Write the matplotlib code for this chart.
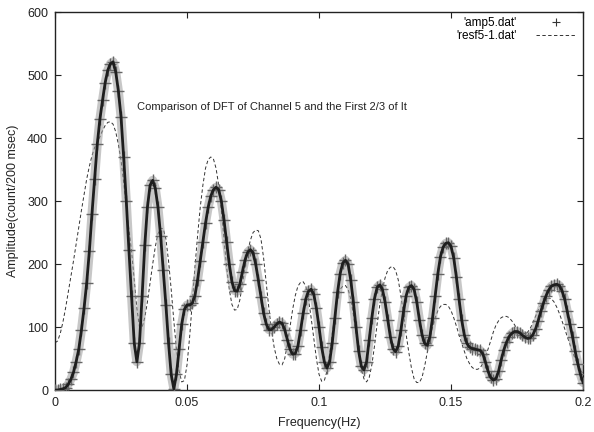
import numpy as np
import matplotlib
matplotlib.use("Agg")
import matplotlib.pyplot as plt
from matplotlib.lines import Line2D

plt.rcParams['font.family'] = ['Liberation Sans', 'DejaVu Sans']

# frequency grid (Hz), step 0.001
freq_start, freq_step, n_pts = 0.0, 0.001, 201

amp5 = [
    0, 0, 1, 2, 4, 9, 17, 28, 45, 65,
    95, 130, 170, 220, 280, 335, 390, 430, 460, 488,
    508, 518, 521, 505, 475, 434, 370, 300, 222, 150,
    75, 45, 75, 150, 230, 290, 325, 333, 320, 290,
    245, 190, 135, 75, 25, 2, 25, 65, 105, 128,
    135, 135, 138, 150, 175, 205, 235, 265, 290, 308,
    318, 322, 318, 300, 270, 235, 200, 172, 158, 157,
    168, 188, 207, 219, 223, 218, 200, 175, 148, 122,
    105, 96, 96, 100, 105, 108, 106, 96, 80, 65,
    57, 58, 70, 95, 122, 145, 157, 160, 152, 130,
    100, 68, 45, 35, 45, 75, 115, 155, 185, 202,
    206, 200, 175, 140, 100, 62, 38, 32, 45, 80,
    115, 145, 163, 167, 160, 140, 112, 85, 66, 61,
    70, 95, 125, 150, 163, 166, 160, 140, 112, 88,
    74, 71, 85, 115, 150, 185, 212, 227, 233, 234,
    228, 210, 180, 145, 112, 88, 74, 68, 66, 65,
    64, 63, 58, 45, 30, 20, 16, 18, 30, 48,
    64, 76, 85, 90, 93, 93, 91, 87, 84, 82,
    83, 88, 97, 110, 125, 138, 150, 159, 165, 167,
    168, 166, 158, 145, 125, 105, 85, 62, 42, 25,
    12,
]

resf5_1 = [
    75, 78, 90, 108, 130, 155, 180, 205, 232, 258,
    285, 310, 335, 355, 372, 385, 393, 402, 412, 420,
    425, 426, 422, 410, 390, 365, 330, 290, 255, 220,
    175, 130, 100, 100, 115, 140, 170, 200, 228, 248,
    257, 256, 240, 205, 160, 110, 65, 30, 13, 15,
    40, 85, 140, 195, 245, 290, 325, 352, 366, 370,
    367, 352, 325, 285, 240, 195, 160, 136, 127, 128,
    143, 168, 195, 220, 238, 250, 254, 253, 240, 210,
    170, 130, 95, 68, 50, 41, 40, 50, 72, 100,
    128, 150, 165, 171, 172, 165, 145, 115, 82, 50,
    25, 14, 15, 30, 58, 90, 120, 145, 160, 165,
    166, 160, 145, 120, 90, 60, 35, 18, 13, 20,
    40, 70, 105, 135, 160, 178, 190, 195, 196, 190,
    175, 150, 120, 88, 60, 35, 18, 12, 12, 20,
    38, 60, 82, 100, 115, 126, 133, 136, 136, 133,
    126, 115, 102, 88, 75, 62, 50, 42, 36, 33,
    33, 35, 42, 52, 65, 78, 92, 103, 110, 115,
    117, 117, 115, 110, 104, 97, 92, 90, 90, 92,
    98, 107, 117, 127, 135, 141, 145, 146, 145, 140,
    132, 122, 110, 98, 85, 73, 60, 50, 40, 32,
    26,
]

xticks = [0, 0.05, 0.1, 0.15, 0.2]
xtick_labels = ['0', '0.05', '0.1', '0.15', '0.2']
yticks = [0, 100, 200, 300, 400, 500, 600]

freq = freq_start + freq_step * np.arange(n_pts)

fig = plt.figure(figsize=(5.94, 4.32), dpi=100)
ax = fig.add_axes([0.0926, 0.097, 0.889, 0.875])

# grey halo of the dense '+' band
ax.plot(freq, amp5, color='#9a9a9a', lw=6.5, solid_capstyle='round',
        alpha=0.55, zorder=2)
ax.plot(freq, amp5, linestyle='none', marker='+', markersize=8,
        markeredgewidth=1.0, color='#666666', zorder=3)
ax.plot(freq, amp5, color='#1e1e1e', lw=2.0, zorder=4)
ax.plot(freq, resf5_1, linestyle=(0, (3.5, 2.5)), lw=0.7, color='#333333',
        zorder=1)

handles = [Line2D([], [], linestyle='none', marker='+', markersize=6,
                  markeredgewidth=0.8, color='#333333'),
           Line2D([], [], linestyle=(0, (3.5, 2.5)), lw=0.7, color='#333333')]
labels = ["'amp5.dat'", "'resf5-1.dat'"]

ax.set_xlim(0, 0.2)
ax.set_ylim(0, 600)
ax.set_xticks(xticks)
ax.set_xticklabels(xtick_labels)
ax.set_yticks(yticks)
ax.tick_params(direction='in', top=True, right=True, length=4, width=0.8,
               labelsize=9, colors='#222222', pad=5)
for s in ax.spines.values():
    s.set_linewidth(1.0)
    s.set_color('#222222')

ax.set_xlabel('Frequency(Hz)', fontsize=9, color='#222222', labelpad=6)
ax.set_ylabel('Amplitude(count/200 msec)', fontsize=9, color='#222222', labelpad=6)

ax.text(0.031, 449, 'Comparison of DFT of Channel 5 and the First 2/3 of It',
        fontsize=8, color='#222222', va='center', ha='left', zorder=6)

leg = ax.legend(handles, labels, loc='upper right', frameon=False,
                markerfirst=False, fontsize=8.5, handlelength=3.4,
                handletextpad=1.6, labelspacing=0.1, borderaxespad=0.2,
                alignment='right', bbox_to_anchor=(1.0, 1.005))

fig.savefig('out.png', dpi=100)
